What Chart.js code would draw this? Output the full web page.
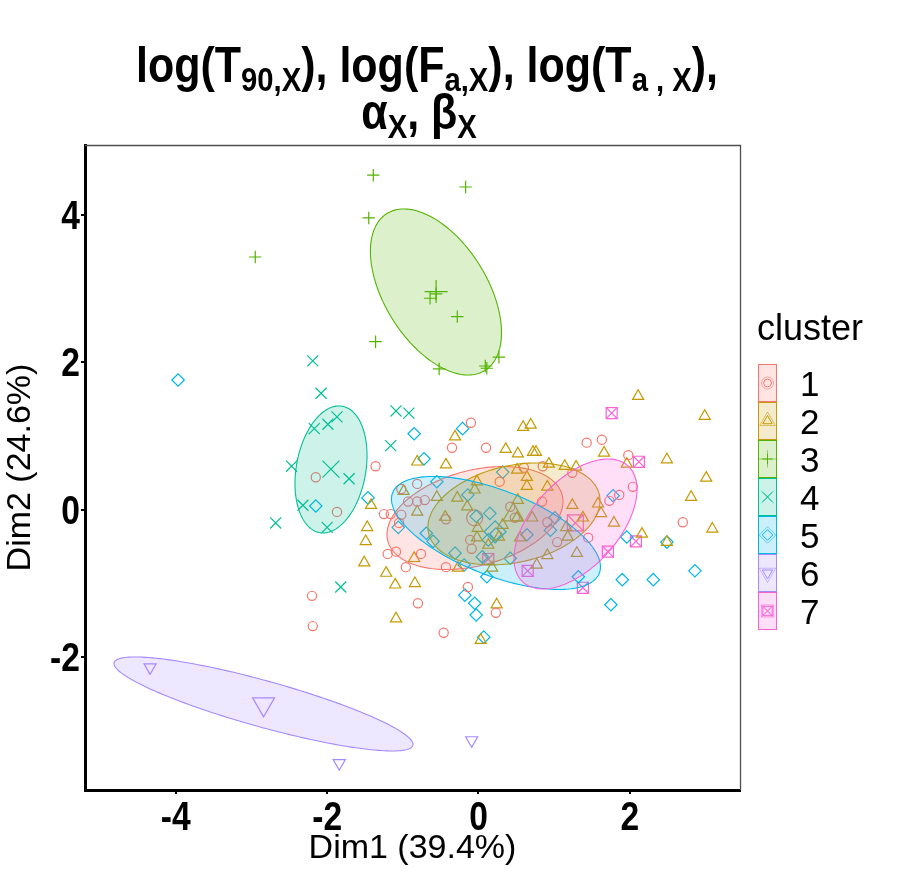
<!DOCTYPE html>
<html><head><meta charset="utf-8">
<script src="https://cdn.jsdelivr.net/npm/chart.js@4.4.1/dist/chart.umd.min.js"></script>
<style>html,body{margin:0;padding:0;background:#fff}canvas{display:block}</style>
</head><body>
<canvas id="c" width="908" height="880"></canvas>
<script>
// ---- data ----
const clusterNames = ['1','2','3','4','5','6','7'];
const colors = ['#F8766D','#C49A00','#53B400','#00C094','#00B6EB','#A58AFF','#FB61D7'];

const c1x = [-0.35,0.10,-0.10,-1.36,-2.15,-1.87,-1.25,-1.16,-1.02,-0.81,-1.02,-0.93,-0.81,-0.71,-1.05,-0.43,0.28,0.60,0.85,0.42,0.48,-0.11,-0.09,-1.20,-1.09,-0.76,-0.96,-0.43,0.84,0.91,1.43,1.63,1.98,1.24,2.04,1.86,1.73,2.70,1.45,1.04,-0.14,-0.80,0.23,-0.46,-2.20,-2.19];
const c1y = [0.84,0.84,1.18,0.59,0.44,-0.03,-0.06,-0.06,-0.07,0.35,0.28,0.11,0.11,0.13,-0.18,-0.13,0.38,0.57,0.59,0.04,-0.11,-0.41,-0.53,-0.60,-0.57,-0.60,-0.78,-0.78,0.11,-0.17,0.91,0.95,0.74,0.50,0.31,0.20,0.12,-0.17,-0.38,-0.44,-1.05,-1.27,-1.40,-1.67,-1.17,-1.58];

const c2x = [-0.31,-0.81,-0.43,-0.99,-0.55,-0.81,-1.42,-0.44,-1.47,-1.49,-0.85,-1.51,-1.22,-1.10,-0.84,0.59,0.69,0.36,0.52,0.72,0.76,0.93,0.51,0.64,0.64,0.91,-0.02,-0.05,-0.28,-0.15,0.51,0.71,-0.01,0.32,0.13,-0.02,-0.27,0.18,1.14,1.29,0.52,1.24,0.27,0.55,1.18,1.38,1.30,0.91,0.77,2.11,2.99,1.66,1.96,2.49,3.01,2.81,1.58,1.62,1.79,1.16,3.09,2.16,2.49,-1.09,0.24,0.03];
const c2y = [0.99,0.65,0.61,0.25,0.17,-0.03,0.06,-0.10,-0.24,-0.43,-0.66,-0.72,-0.86,-1.02,-1.00,1.12,1.15,0.82,0.76,0.78,0.78,0.62,0.54,0.44,0.32,0.31,0.38,0.27,0.16,0.04,-0.11,-0.11,-0.25,-0.21,-0.48,-0.38,-0.79,-0.79,0.59,0.58,0.13,0.06,-0.37,-0.38,-0.37,-0.11,-0.59,-0.62,-0.75,1.54,1.27,0.77,0.62,0.68,0.43,0.17,0.08,-0.05,-0.18,-0.24,-0.26,-0.33,-0.44,-1.48,-1.29,-1.77];

const c3x = [-2.95,-1.39,-0.17,-1.45,-0.64,-0.56,-0.28,-1.36,0.27,-0.52,0.11,0.09];
const c3y = [3.43,4.54,4.38,3.96,2.87,2.93,2.62,2.28,2.07,1.91,1.92,1.95];

const c4x = [-2.19,-2.08,-1.09,-0.92,-1.87,-1.99,-2.17,-1.16,-2.47,-1.71,-2.32,-2.68,-2.00,-1.82];
const c4y = [2.02,1.58,1.34,1.31,1.26,1.16,1.10,0.87,0.59,0.42,0.06,-0.18,-0.24,-1.05];

const c5x = [-3.97,-0.85,-0.21,-0.72,-1.46,-2.15,-0.55,0.32,-1.06,-0.69,-0.60,-0.31,-0.14,-0.03,0.15,0.23,0.13,0.05,-0.19,0.11,0.42,0.64,0.95,1.01,1.78,1.96,2.49,2.86,1.90,2.31,1.32,1.75,-0.18,-0.05,-0.03,0.07];
const c5y = [1.76,1.03,1.10,0.69,0.16,0.05,0.38,0.51,-0.24,-0.32,-0.43,-0.59,0.20,-0.09,-0.05,-0.33,-0.41,-0.64,-0.75,-0.91,-0.66,-0.34,-0.28,-0.11,0.19,-0.37,-0.44,-0.83,-0.95,-0.95,-0.91,-1.29,-1.16,-1.27,-1.43,-1.73];

const c6x = [-4.34,-1.84,-0.09];
const c6y = [-2.14,-3.44,-3.13];

const c7x = [1.76,2.12,2.08,1.71,1.38,0.13,0.65];
const c7y = [1.31,0.65,-0.43,-0.57,-1.06,-0.67,-0.83];

// cluster centres
const cenX = [-0.05,0.46,-0.56,-1.95,0.22,-2.84,1.28];
const cenY = [-0.11,-0.07,2.96,0.55,-0.30,-2.64,-0.18];

// concentration ellipses: centre, half-width, half-height, x-offset ratio of top point
const ellCx = [-0.046,0.469,-0.562,-1.949,0.231,-2.841,1.282];
const ellCy = [-0.113,-0.058,2.955,0.546,-0.316,-2.637,-0.194];
const ellW  = [1.163,1.137,0.866,0.476,1.381,1.976,0.813];
const ellH  = [0.699,0.692,1.127,0.862,0.767,0.638,0.882];
const ellR  = [0.32,0.26,-0.49,0.22,-0.60,-0.86,0.53];

const xTicks = [-4,-2,0,2];
const yTicks = [-2,0,2,4];

const title1 = [['log(T',0],['90,X',1],['), log(F',0],['a,X',1],['), log(T',0],['a , X',1],['),',0]];
const title2 = [['\u03B1',0],['X',1],[', \u03B2',0],['X',1]];
const xTitle = 'Dim1 (39.4%)';
const yTitle = 'Dim2 (24.6%)';
const legendTitle = 'cluster';

// ---- build ----
const REG = "'Liberation Sans', Arial, Helvetica, sans-serif";
const NARROW_X = 0.84; // horizontal squeeze emulating a narrow bold face
function rgba(hex,a){const n=parseInt(hex.slice(1),16);return `rgba(${n>>16&255},${n>>8&255},${n&255},${a})`;}
function pts(xs,ys){return xs.map((x,i)=>({x:x,y:ys[i]}));}

const groups = [[c1x,c1y],[c2x,c2y],[c3x,c3y],[c4x,c4y],[c5x,c5y],[c6x,c6y],[c7x,c7y]];
const styles = [
  [{s:'circle',r:4.6,rot:0}],
  [{s:'triangle',r:6.4,rot:0}],
  [{s:'cross',r:6.2,rot:0}],
  [{s:'crossRot',r:7.8,rot:0}],
  [{s:'rectRot',r:6.2,rot:0}],
  [{s:'triangle',r:7,rot:180}],
  [{s:'rect',r:7.8,rot:0},{s:'crossRot',r:7.8,rot:0}]
];
const bigR = [8,12,11.5,12,11,12.7,11.3];

const datasets = [];
groups.forEach((g,k)=>{
  styles[k].forEach(st=>{
    datasets.push({data:pts(g[0],g[1]),pointStyle:st.s,pointRadius:st.r,rotation:st.rot,
      pointBorderColor:colors[k],pointBackgroundColor:'rgba(0,0,0,0)',pointBorderWidth:1.2,showLine:false});
  });
});
groups.forEach((g,k)=>{
  styles[k].forEach(st=>{
    datasets.push({data:[{x:cenX[k],y:cenY[k]}],pointStyle:st.s,pointRadius:bigR[k]*(st.r/styles[k][0].r),rotation:st.rot,
      pointBorderColor:colors[k],pointBackgroundColor:'rgba(0,0,0,0)',pointBorderWidth:1.2,showLine:false});
  });
});

const ellipsePlugin = {
  id:'ell',
  afterDatasetsDraw(chart){
    const ctx=chart.ctx, a=chart.chartArea, sx=chart.scales.x, sy=chart.scales.y;
    ctx.save();
    ctx.beginPath(); ctx.rect(a.left,a.top,a.right-a.left,a.bottom-a.top); ctx.clip();
    for(let k=0;k<7;k++){
      const d=Math.acos(ellR[k]);
      ctx.beginPath();
      for(let i=0;i<=180;i++){
        const t=i/180*2*Math.PI;
        const px=sx.getPixelForValue(ellCx[k]+ellW[k]*Math.cos(t));
        const py=sy.getPixelForValue(ellCy[k]+ellH[k]*Math.cos(t-d));
        if(i===0) ctx.moveTo(px,py); else ctx.lineTo(px,py);
      }
      ctx.closePath();
      ctx.fillStyle=rgba(colors[k],0.2); ctx.fill();
      ctx.strokeStyle=colors[k]; ctx.lineWidth=1.1; ctx.stroke();
    }
    ctx.restore();
  }
};

function drawSym(ctx,s,x,y,r,rot){
  ctx.beginPath();
  if(s==='circle'){ctx.arc(x,y,r,0,2*Math.PI);}
  else if(s==='triangle'){
    let a=rot*Math.PI/180;
    for(let i=0;i<3;i++){const px=x+Math.sin(a)*r, py=y-Math.cos(a)*r; i?ctx.lineTo(px,py):ctx.moveTo(px,py); a+=2*Math.PI/3;}
    ctx.closePath();
  }
  else if(s==='cross'){ctx.moveTo(x-r,y);ctx.lineTo(x+r,y);ctx.moveTo(x,y-r);ctx.lineTo(x,y+r);}
  else if(s==='crossRot'){const o=r*Math.SQRT1_2;ctx.moveTo(x-o,y-o);ctx.lineTo(x+o,y+o);ctx.moveTo(x+o,y-o);ctx.lineTo(x-o,y+o);}
  else if(s==='rectRot'){ctx.moveTo(x,y-r);ctx.lineTo(x+r,y);ctx.lineTo(x,y+r);ctx.lineTo(x-r,y);ctx.closePath();}
  else if(s==='rect'){const o=r*Math.SQRT1_2;ctx.rect(x-o,y-o,2*o,2*o);}
  ctx.stroke();
}

function narrowText(ctx,text,x,y,align){
  ctx.save(); ctx.translate(x,y); ctx.scale(NARROW_X,1); ctx.textAlign=align; ctx.fillText(text,0,0); ctx.restore();
}

const decorPlugin = {
  id:'decor',
  afterDraw(chart){
    const ctx=chart.ctx, a=chart.chartArea, sx=chart.scales.x, sy=chart.scales.y;
    ctx.save();
    // panel border top/right
    ctx.strokeStyle='#4d4d4d'; ctx.lineWidth=1.3;
    ctx.beginPath(); ctx.moveTo(a.left,a.top+0.5); ctx.lineTo(a.right+0.5,a.top+0.5); ctx.lineTo(a.right+0.5,a.bottom); ctx.stroke();
    ctx.fillStyle='#000'; ctx.textBaseline='alphabetic';
    // tick labels (bold, narrow) at the library's tick positions
    ctx.font='bold 40px '+REG;
    sx.ticks.forEach(t=>{ narrowText(ctx,String(t.value),sx.getPixelForValue(t.value),830,'center'); });
    sy.ticks.forEach(t=>{ narrowText(ctx,String(t.value),80,sy.getPixelForValue(t.value)+14,'right'); });
    // title
    const MAIN='bold 50px '+REG, SUB='bold 34px '+REG;
    const lines=[{p:title1,cx:427,b:82},{p:title2,cx:419,b:129}];
    for(const L of lines){
      let w=0; for(const q of L.p){ctx.font=q[1]?SUB:MAIN; w+=ctx.measureText(q[0]).width;}
      ctx.save(); ctx.translate(L.cx,0); ctx.scale(0.86,1); ctx.textAlign='left';
      let x=-w/2;
      for(const q of L.p){ctx.font=q[1]?SUB:MAIN; ctx.fillText(q[0],x,L.b+(q[1]?9:0)); x+=ctx.measureText(q[0]).width;}
      ctx.restore();
    }
    // legend
    ctx.textAlign='left';
    ctx.font='36px '+REG; ctx.fillText(legendTitle,757,340);
    const kx=758, kw=19, kh=38, ky0=364;
    for(let k=0;k<7;k++){
      const y=ky0+k*kh, cx=kx+kw/2, cy=y+kh/2;
      ctx.fillStyle=rgba(colors[k],0.2); ctx.fillRect(kx,y,kw,kh);
      ctx.strokeStyle=colors[k]; ctx.lineWidth=1; ctx.strokeRect(kx+0.5,y+0.5,kw-1,kh-1);
      styles[k].forEach(st=>{
        ctx.strokeStyle=colors[k];
        drawSym(ctx,st.s,cx,cy,st.r*0.85,st.rot);
        ctx.strokeStyle=rgba(colors[k],0.55);
        drawSym(ctx,st.s,cx,cy,Math.min(bigR[k]*(st.r/styles[k][0].r),14)*0.75,st.rot);
      });
      ctx.fillStyle='#000'; ctx.font='35px '+REG;
      ctx.fillText(clusterNames[k],800,cy+12.5);
    }
    ctx.restore();
  }
};

new Chart(document.getElementById('c'),{
  type:'scatter',
  data:{datasets:datasets},
  options:{
    responsive:false, animation:false, events:[],
    layout:{padding:{top:145,right:168,left:0,bottom:0}},
    plugins:{legend:{display:false},tooltip:{enabled:false},title:{display:false}},
    scales:{
      x:{type:'linear',min:-5.2,max:3.456,
        afterFit(s){s.height=90;},
        afterBuildTicks(s){s.ticks=xTicks.map(v=>({value:v}));},
        ticks:{display:false,includeBounds:false},
        grid:{drawOnChartArea:false,drawTicks:true,tickLength:4,color:'#000',lineWidth:2},
        border:{display:true,color:'#000',width:3},
        title:{display:true,text:xTitle,color:'#000',font:{family:REG,size:34,lineHeight:1.2},padding:{top:0,bottom:11}}
      },
      y:{type:'linear',min:-3.805,max:4.95,
        afterFit(s){s.width=85;},
        afterBuildTicks(s){s.ticks=yTicks.map(v=>({value:v}));},
        ticks:{display:false,includeBounds:false},
        grid:{drawOnChartArea:false,drawTicks:true,tickLength:4,color:'#000',lineWidth:2},
        border:{display:true,color:'#000',width:3},
        title:{display:true,text:yTitle,color:'#000',font:{family:REG,size:34,lineHeight:1.2},padding:{top:0,bottom:0}}
      }
    }
  },
  plugins:[ellipsePlugin,decorPlugin]
});
</script></body></html>
